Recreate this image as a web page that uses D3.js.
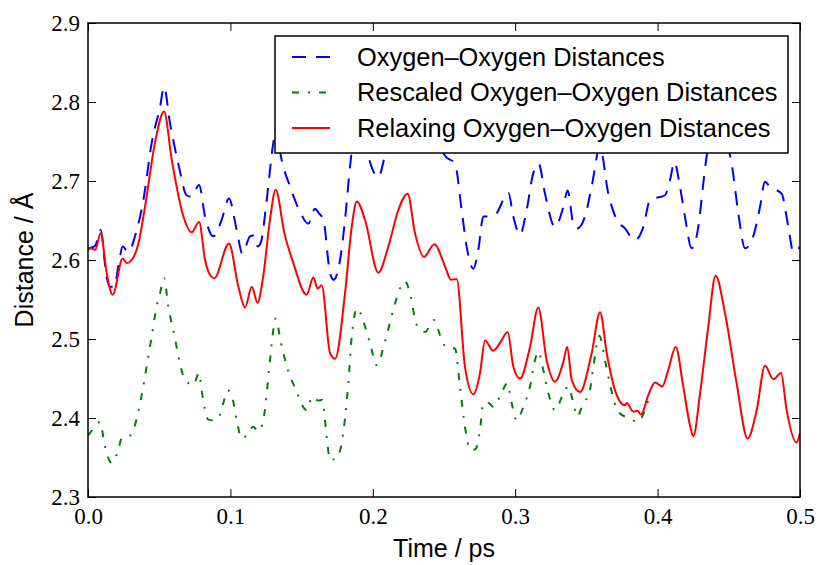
<!DOCTYPE html>
<html>
<head>
<meta charset="utf-8">
<script src="https://cdn.jsdelivr.net/npm/d3@7"></script>
<style>
  body { margin: 0; background: #fff; }
  svg { display: block; }
  .tick text { font-family: "Liberation Serif", "DejaVu Serif", serif; }
</style>
</head>
<body>
<script>
// values (time in ps, distance in Å)
const blueTime = [0.000, 0.0014, 0.005, 0.0089, 0.013, 0.0154, 0.0185, 0.0213, 0.0244, 0.0283, 0.033, 0.0389, 0.0447, 0.0506, 0.0534, 0.0576, 0.0634, 0.0693, 0.0728, 0.078, 0.0822, 0.088, 0.0939, 0.099, 0.1044, 0.1084, 0.1138, 0.1161, 0.1192, 0.1215, 0.1255, 0.1301, 0.1322, 0.1355, 0.1419, 0.1489, 0.1547, 0.1594, 0.1622, 0.1653, 0.170, 0.1725, 0.177, 0.1805, 0.184, 0.1891, 0.1934, 0.1969, 0.2039, 0.2086, 0.2144, 0.2191, 0.2226, 0.2261, 0.2308, 0.2367, 0.243, 0.2472, 0.2507, 0.2577, 0.2624, 0.2659, 0.2706, 0.2741, 0.2776, 0.2811, 0.2858, 0.2952, 0.2987, 0.3034, 0.308, 0.3127, 0.3165, 0.3209, 0.3279, 0.3338, 0.3368, 0.3408, 0.3436, 0.349, 0.3537, 0.3595, 0.3654, 0.3713, 0.3771, 0.3840, 0.39, 0.3947, 0.4052, 0.4087, 0.4118, 0.4157, 0.4192, 0.4239, 0.4286, 0.4321, 0.4344, 0.4400, 0.4460, 0.452, 0.4567, 0.4614, 0.4672, 0.4719, 0.4754, 0.4796, 0.4829, 0.4871, 0.4918, 0.4953, 0.500];
const blueDist = [2.613, 2.615, 2.618, 2.638, 2.579, 2.566, 2.566, 2.592, 2.617, 2.610, 2.630, 2.676, 2.748, 2.794, 2.819, 2.773, 2.722, 2.682, 2.680, 2.695, 2.655, 2.630, 2.651, 2.678, 2.638, 2.608, 2.630, 2.631, 2.617, 2.623, 2.676, 2.748, 2.768, 2.731, 2.693, 2.661, 2.646, 2.665, 2.659, 2.651, 2.583, 2.575, 2.600, 2.651, 2.718, 2.780, 2.760, 2.731, 2.705, 2.733, 2.778, 2.808, 2.818, 2.800, 2.758, 2.748, 2.765, 2.744, 2.732, 2.722, 2.663, 2.617, 2.589, 2.613, 2.655, 2.655, 2.657, 2.685, 2.655, 2.632, 2.663, 2.710, 2.722, 2.684, 2.642, 2.667, 2.688, 2.646, 2.640, 2.655, 2.693, 2.743, 2.684, 2.651, 2.640, 2.625, 2.642, 2.676, 2.682, 2.701, 2.724, 2.693, 2.655, 2.615, 2.642, 2.697, 2.731, 2.775, 2.760, 2.722, 2.659, 2.615, 2.630, 2.667, 2.699, 2.691, 2.689, 2.684, 2.642, 2.610, 2.617];

const greenTime = [0.000, 0.0014, 0.0084, 0.0119, 0.0166, 0.0213, 0.0236, 0.0283, 0.033, 0.0377, 0.0412, 0.0447, 0.0482, 0.0506, 0.0534, 0.0564, 0.0606, 0.0646, 0.0681, 0.074, 0.078, 0.0798, 0.0845, 0.088, 0.0915, 0.095, 0.0981, 0.1009, 0.1044, 0.1079, 0.1114, 0.1161, 0.1196, 0.1231, 0.1255, 0.1278, 0.1301, 0.1318, 0.1355, 0.1407, 0.1454, 0.1536, 0.1575, 0.1617, 0.1646, 0.1676, 0.170, 0.1746, 0.1781, 0.1828, 0.1852, 0.1891, 0.1934, 0.198, 0.2027, 0.2086, 0.2144, 0.2191, 0.2226, 0.2261, 0.2308, 0.2367, 0.243, 0.2472, 0.2519, 0.2577, 0.2612, 0.2647, 0.2683, 0.2718, 0.2753, 0.2776, 0.2811, 0.2846, 0.2893, 0.2945, 0.2975, 0.301, 0.3057, 0.3104, 0.3139, 0.3162, 0.3197, 0.3233, 0.328, 0.3338, 0.3373, 0.3408, 0.3436, 0.3478, 0.352, 0.3549, 0.3591, 0.3631, 0.3666, 0.3724, 0.3794, 0.3865, 0.3911, 0.3947];
const greenDist = [2.378, 2.381, 2.395, 2.364, 2.343, 2.360, 2.374, 2.376, 2.391, 2.429, 2.465, 2.503, 2.541, 2.558, 2.577, 2.541, 2.505, 2.469, 2.448, 2.442, 2.457, 2.435, 2.398, 2.397, 2.400, 2.419, 2.435, 2.429, 2.397, 2.374, 2.378, 2.389, 2.383, 2.397, 2.431, 2.473, 2.511, 2.526, 2.495, 2.459, 2.438, 2.410, 2.427, 2.422, 2.423, 2.376, 2.347, 2.349, 2.368, 2.444, 2.503, 2.539, 2.522, 2.495, 2.467, 2.497, 2.537, 2.564, 2.573, 2.558, 2.518, 2.509, 2.524, 2.505, 2.489, 2.488, 2.440, 2.389, 2.360, 2.360, 2.385, 2.419, 2.419, 2.414, 2.427, 2.444, 2.419, 2.397, 2.414, 2.440, 2.473, 2.484, 2.461, 2.431, 2.410, 2.431, 2.440, 2.419, 2.402, 2.419, 2.431, 2.465, 2.504, 2.473, 2.442, 2.408, 2.400, 2.395, 2.410, 2.429];

const redTime = [0.000, 0.0014, 0.005, 0.0089, 0.013, 0.0173, 0.0244, 0.0272, 0.0307, 0.0354, 0.040, 0.047, 0.0534, 0.0588, 0.067, 0.0728, 0.078, 0.0822, 0.0857, 0.0887, 0.099, 0.1056, 0.1103, 0.115, 0.119, 0.123, 0.1278, 0.1318, 0.1379, 0.1442, 0.1536, 0.1582, 0.1613, 0.1641, 0.170, 0.1735, 0.1805, 0.1852, 0.1887, 0.1945, 0.2039, 0.2109, 0.2179, 0.2245, 0.2296, 0.236, 0.2432, 0.2507, 0.2549, 0.2589, 0.2647, 0.2706, 0.2753, 0.2788, 0.2846, 0.2893, 0.2947, 0.2987, 0.3034, 0.3104, 0.3162, 0.3221, 0.3279, 0.3338, 0.3365, 0.3397, 0.3455, 0.3537, 0.3596, 0.3643, 0.3701, 0.3771, 0.3783, 0.383, 0.386, 0.3883, 0.3935, 0.3982, 0.4033, 0.4075, 0.4127, 0.418, 0.4227, 0.4251, 0.4298, 0.4356, 0.4407, 0.4473, 0.4555, 0.4632, 0.4696, 0.4754, 0.4813, 0.4867, 0.4906, 0.4976, 0.500];
const redDist = [2.615, 2.615, 2.613, 2.634, 2.585, 2.556, 2.602, 2.596, 2.600, 2.621, 2.667, 2.748, 2.788, 2.727, 2.655, 2.635, 2.648, 2.600, 2.581, 2.577, 2.621, 2.566, 2.540, 2.566, 2.546, 2.579, 2.651, 2.689, 2.634, 2.596, 2.556, 2.578, 2.564, 2.568, 2.482, 2.475, 2.558, 2.642, 2.674, 2.651, 2.584, 2.617, 2.663, 2.684, 2.634, 2.604, 2.620, 2.592, 2.575, 2.576, 2.465, 2.430, 2.457, 2.498, 2.485, 2.495, 2.509, 2.465, 2.450, 2.490, 2.540, 2.473, 2.446, 2.471, 2.490, 2.448, 2.433, 2.482, 2.534, 2.482, 2.435, 2.416, 2.419, 2.408, 2.409, 2.404, 2.429, 2.445, 2.440, 2.461, 2.490, 2.440, 2.391, 2.377, 2.431, 2.516, 2.580, 2.533, 2.444, 2.374, 2.410, 2.466, 2.449, 2.457, 2.410, 2.369, 2.381];

const seriesNames = ["Oxygen\u2013Oxygen Distances", "Rescaled Oxygen\u2013Oxygen Distances", "Relaxing Oxygen\u2013Oxygen Distances"];
const seriesColors = ["#0000ff", "#008000", "#ff0000"];
const seriesDashes = ["14,10", "7,9,2,9", null];

const xTicks = [0.0, 0.1, 0.2, 0.3, 0.4, 0.5];
const yTicks = [2.3, 2.4, 2.5, 2.6, 2.7, 2.8, 2.9];

const width = 819;
const height = 565;
const margin = {top: 23, right: 19, bottom: 68, left: 88};
const innerW = width - margin.left - margin.right;
const innerH = height - margin.top - margin.bottom;

const svg = d3.select("body")
    .append("svg")
    .attr("width", width)
    .attr("height", height);

const g = svg.append("g")
    .attr("transform", `translate(${margin.left},${margin.top})`);

const x = d3.scaleLinear().domain([0, 0.5]).range([0, innerW]);
const y = d3.scaleLinear().domain([2.3, 2.9]).range([innerH, 0]);

g.append("clipPath").attr("id", "plot-clip")
  .append("rect").attr("width", innerW).attr("height", innerH);

const line = d3.line()
    .x(d => x(d[0]))
    .y(d => y(d[1]))
    .curve(d3.curveMonotoneX);

const series = [
    d3.zip(blueTime, blueDist),
    d3.zip(greenTime, greenDist),
    d3.zip(redTime, redDist)
];

g.append("g")
    .attr("clip-path", "url(#plot-clip)")
  .selectAll("path")
  .data(series)
  .enter()
  .append("path")
    .attr("d", line)
    .attr("fill", "none")
    .attr("stroke", (d, i) => seriesColors[i])
    .attr("stroke-width", 2)
    .attr("stroke-dasharray", (d, i) => seriesDashes[i]);

// axes with inward ticks on all four sides
const tickFont = "'Liberation Serif', 'DejaVu Serif', serif";
const fmt = d3.format(".1f");

g.append("g")
    .attr("transform", `translate(0,${innerH})`)
    .call(d3.axisBottom(x).tickValues(xTicks).tickFormat(fmt).tickSize(-8).tickSizeOuter(0).tickPadding(11));
g.append("g")
    .call(d3.axisLeft(y).tickValues(yTicks).tickFormat(fmt).tickSize(-8).tickSizeOuter(0).tickPadding(8));
g.append("g")
    .call(d3.axisTop(x).tickValues(xTicks).tickFormat("").tickSize(-8).tickSizeOuter(0));
g.append("g")
    .attr("transform", `translate(${innerW},0)`)
    .call(d3.axisRight(y).tickValues(yTicks).tickFormat("").tickSize(-8).tickSizeOuter(0));

g.selectAll(".domain").remove();
g.selectAll(".tick line").attr("stroke", "#000").attr("stroke-width", 1);
g.selectAll(".tick text")
    .attr("font-family", tickFont)
    .attr("font-size", 23)
    .attr("fill", "#000");

g.append("rect")
    .attr("width", innerW)
    .attr("height", innerH)
    .attr("fill", "none")
    .attr("stroke", "#000")
    .attr("stroke-width", 1.5);

// axis titles
const labelFont = "'Liberation Sans', Arial, sans-serif";
svg.append("text")
    .attr("x", margin.left + innerW / 2)
    .attr("y", 557)
    .attr("text-anchor", "middle")
    .attr("font-family", labelFont)
    .attr("font-size", 25)
    .text("Time / ps");

svg.append("text")
    .attr("transform", `translate(33,${margin.top + innerH / 2}) rotate(-90)`)
    .attr("text-anchor", "middle")
    .attr("font-family", labelFont)
    .attr("font-size", 25)
    .text("Distance / \u00c5");

// legend
const legend = svg.append("g").attr("transform", "translate(275,36)");
legend.append("rect")
    .attr("width", 513)
    .attr("height", 117)
    .attr("fill", "#fff")
    .attr("stroke", "#000")
    .attr("stroke-width", 1.5);

const item = legend.selectAll("g.item")
    .data(seriesNames)
    .enter()
    .append("g")
    .attr("class", "item")
    .attr("transform", (d, i) => `translate(0,${21 + i * 35.5})`);

item.append("line")
    .attr("x1", 17).attr("x2", 55)
    .attr("stroke", (d, i) => seriesColors[i])
    .attr("stroke-width", 2)
    .attr("stroke-dasharray", (d, i) => seriesDashes[i]);

item.append("text")
    .attr("x", 82)
    .attr("dy", "0.35em")
    .attr("font-family", labelFont)
    .attr("font-size", 25.4)
    .text(d => d);
</script>
</body>
</html>
